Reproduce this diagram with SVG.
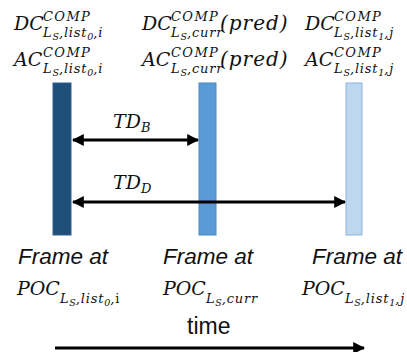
<svg xmlns="http://www.w3.org/2000/svg" width="407" height="352" viewBox="0 0 407 352">
  <style>
    .math { font-family: "DejaVu Serif", "Liberation Serif", serif; font-style: italic; fill: #111; }
    .big { font-size: 19px; }
    .mid { font-size: 13px; letter-spacing: 0.8px; }
    .sup { font-size: 13px; letter-spacing: 1.4px; }
    .tiny { font-size: 9.5px; }
    .paren { font-size: 20px; letter-spacing: 1px; }
    .caption { font-family: "Liberation Sans", Arial, sans-serif; font-style: italic; font-size: 22.5px; fill: #111; }
    .plain { font-family: "Liberation Sans", Arial, sans-serif; font-size: 23px; fill: #111; }
    .conn { stroke: #000; stroke-width: 3; fill: none; }
  </style>
  <defs>
    <marker id="tip" viewBox="0 0 10 10" refX="9" refY="5" markerWidth="4" markerHeight="4" orient="auto-start-reverse" markerUnits="strokeWidth">
      <path d="M0,0 L10,5 L0,10 Z" fill="#000"/>
    </marker>
  </defs>

  <!-- reference frame list0 -->
  <g id="frame-list0">
    <rect x="53" y="83" width="18" height="152" fill="#1f4e79" stroke="#2e5f8e" stroke-width="1"/>
    <text class="math big" x="14" y="30">DC<tspan class="sup" x="43" y="21">COMP</tspan><tspan class="mid" x="43" y="37">L</tspan><tspan class="tiny" dy="3">S</tspan><tspan class="mid" dy="-3">,list</tspan><tspan class="tiny" dy="3">0</tspan><tspan class="mid" dy="-3">,i</tspan></text>
    <text class="math big" x="14" y="66">AC<tspan class="sup" x="43" y="57">COMP</tspan><tspan class="mid" x="43" y="73">L</tspan><tspan class="tiny" dy="3">S</tspan><tspan class="mid" dy="-3">,list</tspan><tspan class="tiny" dy="3">0</tspan><tspan class="mid" dy="-3">,i</tspan></text>
    <text class="caption" x="18" y="264">Frame at</text>
    <text class="math big" x="17" y="295" font-size="20">POC<tspan class="mid" dy="8">L</tspan><tspan class="tiny" dy="3">S</tspan><tspan class="mid" dy="-3">,list</tspan><tspan class="tiny" dy="3">0</tspan><tspan class="mid" dy="-3">,</tspan><tspan class="mid" font-style="normal">i</tspan></text>
  </g>

  <!-- current frame -->
  <g id="frame-curr">
    <rect x="199" y="83" width="17" height="152" fill="#5b9bd5" stroke="#4a87c0" stroke-width="1"/>
    <text class="math big" x="142" y="30">DC<tspan class="sup" x="171" y="21">COMP</tspan><tspan class="mid" x="171" y="37">L</tspan><tspan class="tiny" dy="3">S</tspan><tspan class="mid" dy="-3">,curr</tspan><tspan class="paren" x="220" y="30">(pred)</tspan></text>
    <text class="math big" x="142" y="66">AC<tspan class="sup" x="171" y="57">COMP</tspan><tspan class="mid" x="171" y="73">L</tspan><tspan class="tiny" dy="3">S</tspan><tspan class="mid" dy="-3">,curr</tspan><tspan class="paren" x="220" y="66">(pred)</tspan></text>
    <text class="caption" x="163" y="264">Frame at</text>
    <text class="math big" x="163" y="295" font-size="20">POC<tspan class="mid" dy="8">L</tspan><tspan class="tiny" dy="3">S</tspan><tspan class="mid" dy="-3">,curr</tspan></text>
  </g>

  <!-- reference frame list1 -->
  <g id="frame-list1">
    <rect x="346" y="83" width="16" height="152" fill="#bdd7ee" stroke="#8fb4d9" stroke-width="1"/>
    <text class="math big" x="305" y="30">DC<tspan class="sup" x="334" y="21">COMP</tspan><tspan class="mid" x="334" y="37">L</tspan><tspan class="tiny" dy="3">S</tspan><tspan class="mid" dy="-3">,list</tspan><tspan class="tiny" dy="3">1</tspan><tspan class="mid" dy="-3">,j</tspan></text>
    <text class="math big" x="305" y="66">AC<tspan class="sup" x="334" y="57">COMP</tspan><tspan class="mid" x="334" y="73">L</tspan><tspan class="tiny" dy="3">S</tspan><tspan class="mid" dy="-3">,list</tspan><tspan class="tiny" dy="3">1</tspan><tspan class="mid" dy="-3">,j</tspan></text>
    <text class="caption" x="312" y="264">Frame at</text>
    <text class="math big" x="302" y="295" font-size="20">POC<tspan class="mid" dy="8">L</tspan><tspan class="tiny" dy="3">S</tspan><tspan class="mid" dy="-3">,list</tspan><tspan class="tiny" dy="3">1</tspan><tspan class="mid" dy="-3">,j</tspan></text>
  </g>

  <!-- distances and time axis -->
  <g id="connectors">
    <line class="conn" x1="73" y1="140" x2="198" y2="140" marker-start="url(#tip)" marker-end="url(#tip)"/>
    <text class="math big" x="113" y="128" font-size="20">TD<tspan class="mid" dy="4">B</tspan></text>
    <line class="conn" x1="73" y1="202" x2="345" y2="202" marker-start="url(#tip)" marker-end="url(#tip)"/>
    <text class="math big" x="113" y="189" font-size="20">TD<tspan class="mid" dy="4">D</tspan></text>
    <text class="plain" x="187" y="334">time</text>
    <line class="conn" x1="55" y1="348" x2="364" y2="348" marker-end="url(#tip)"/>
  </g>
</svg>
